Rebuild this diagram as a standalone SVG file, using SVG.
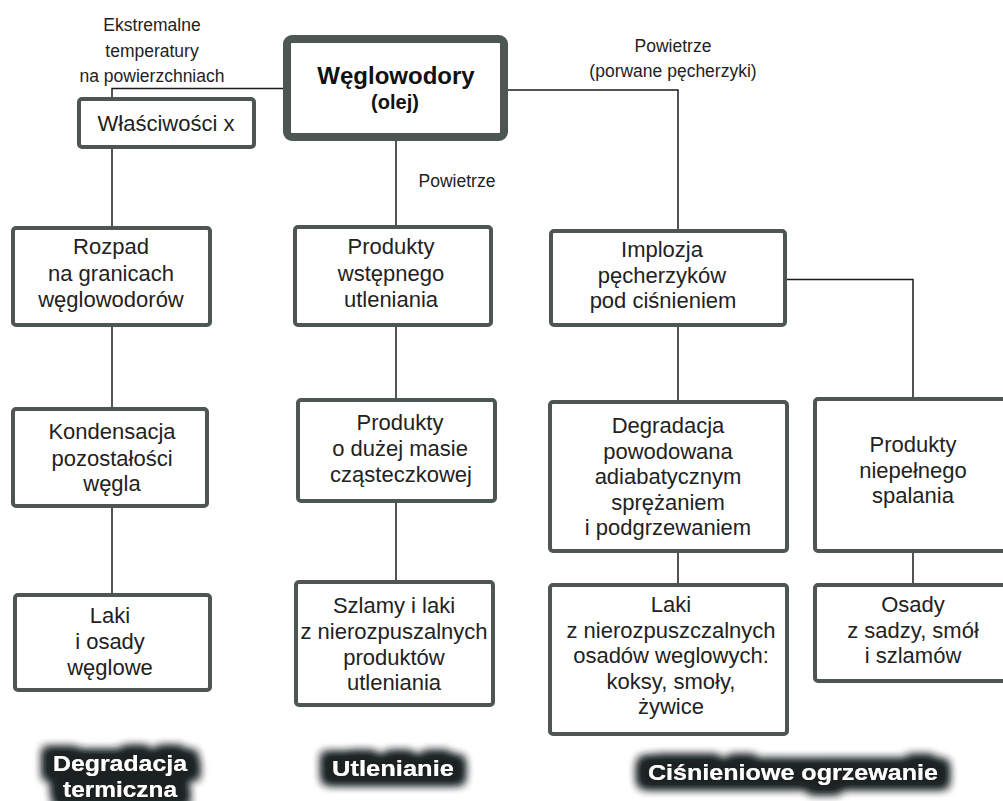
<svg xmlns="http://www.w3.org/2000/svg" width="1003" height="801" viewBox="0 0 1003 801">
<style>
.box{fill:#fff;stroke:#4d5555;stroke-width:4}
.main{fill:#fff;stroke:#4d5555;stroke-width:8}
.t{font-family:"Liberation Sans",Arial,sans-serif;font-size:22px;fill:#222;text-anchor:middle}
.lbl{font-family:"Liberation Sans",Arial,sans-serif;font-size:17.5px;fill:#222;text-anchor:middle}
.ttl{font-family:"Liberation Sans",Arial,sans-serif;font-weight:bold;fill:#111;text-anchor:middle}
.cat{font-family:"Liberation Sans",Arial,sans-serif;font-weight:bold;font-size:22px;fill:#fff;text-anchor:middle}
.conn{fill:none;stroke:#1a1a1a;stroke-width:1.5}
</style>
<defs>
<filter id="glow" x="-40%" y="-100%" width="180%" height="300%">
<feMorphology in="SourceAlpha" operator="dilate" radius="11 8" result="d"/>
<feGaussianBlur in="d" stdDeviation="5" result="b"/>
<feFlood flood-color="#1c2323"/>
<feComposite in2="b" operator="in" result="s"/>
<feMerge><feMergeNode in="s"/><feMergeNode in="s"/><feMergeNode in="SourceGraphic"/></feMerge>
</filter>
</defs>
<rect width="1003" height="801" fill="#fff"/>

<g id="connectors">
<path class="conn" d="M284,88.5 H112 V98"/>
<path class="conn" d="M112,149 V226"/>
<path class="conn" d="M112,327 V407"/>
<path class="conn" d="M112,508 V593"/>
<path class="conn" d="M396,141 V225"/>
<path class="conn" d="M396,327 V398"/>
<path class="conn" d="M396,503 V580"/>
<path class="conn" d="M508,90 H678 V229"/>
<path class="conn" d="M678,327 V400"/>
<path class="conn" d="M678,553 V583"/>
<path class="conn" d="M787,279.5 H913 V397"/>
<path class="conn" d="M913,553 V583"/>
</g>

<g id="label-ekstremalne">
<text class="lbl" x="152" y="31">Ekstremalne</text>
<text class="lbl" x="152" y="57">temperatury</text>
<text class="lbl" x="152" y="82">na powierzchniach</text>
</g>
<g id="label-powietrze-porwane">
<text class="lbl" x="673" y="52">Powietrze</text>
<text class="lbl" x="673" y="77">(porwane pęcherzyki)</text>
</g>
<g id="label-powietrze">
<text class="lbl" x="457" y="187">Powietrze</text>
</g>

<g id="node-weglowodory">
<rect class="main" x="287" y="39" width="217" height="98" rx="5"/>
<text class="ttl" x="396" y="84" font-size="24">Węglowodory</text>
<text class="ttl" x="395" y="109" font-size="20">(olej)</text>
</g>

<g id="node-wlasciwosci">
<rect class="box" x="79" y="99" width="175" height="48" rx="3"/>
<text class="t" x="166" y="131">Właściwości x</text>
</g>

<g id="node-rozpad">
<rect class="box" x="13" y="228" width="197" height="97" rx="3"/>
<text class="t" x="111" y="254">Rozpad</text>
<text class="t" x="111" y="280.5">na granicach</text>
<text class="t" x="111" y="306.5">węglowodorów</text>
</g>

<g id="node-kondensacja">
<rect class="box" x="13" y="409" width="194" height="97" rx="3"/>
<text class="t" x="112" y="439">Kondensacja</text>
<text class="t" x="112" y="465.5">pozostałości</text>
<text class="t" x="112" y="491">węgla</text>
</g>

<g id="node-laki-osady">
<rect class="box" x="15" y="595" width="195" height="95" rx="3"/>
<text class="t" x="110" y="623">Laki</text>
<text class="t" x="110" y="649">i osady</text>
<text class="t" x="110" y="675">węglowe</text>
</g>

<g id="node-produkty-wstepnego">
<rect class="box" x="295" y="227" width="196" height="98" rx="3"/>
<text class="t" x="391" y="254">Produkty</text>
<text class="t" x="391" y="280.5">wstępnego</text>
<text class="t" x="391" y="306.5">utleniania</text>
</g>

<g id="node-produkty-masie">
<rect class="box" x="298" y="400" width="197" height="101" rx="3"/>
<text class="t" x="400" y="430">Produkty</text>
<text class="t" x="400" y="456">o dużej masie</text>
<text class="t" x="401" y="481.5">cząsteczkowej</text>
</g>

<g id="node-szlamy">
<rect class="box" x="296" y="582" width="197" height="123" rx="3"/>
<text class="t" x="394" y="613">Szlamy i laki</text>
<text class="t" x="394" y="638.5">z nierozpuszalnych</text>
<text class="t" x="394" y="664.5">produktów</text>
<text class="t" x="394" y="690">utleniania</text>
</g>

<g id="node-implozja">
<rect class="box" x="551" y="231" width="234" height="94" rx="3"/>
<text class="t" x="662" y="257">Implozja</text>
<text class="t" x="662" y="283">pęcherzyków</text>
<text class="t" x="663" y="308">pod ciśnieniem</text>
</g>

<g id="node-degradacja">
<rect class="box" x="550" y="402" width="237" height="149" rx="3"/>
<text class="t" x="668" y="433">Degradacja</text>
<text class="t" x="668" y="458.5">powodowana</text>
<text class="t" x="668" y="484">adiabatycznym</text>
<text class="t" x="668" y="509.5">sprężaniem</text>
<text class="t" x="668" y="535">i podgrzewaniem</text>
</g>

<g id="node-laki-koksy">
<rect class="box" x="550" y="585" width="237" height="149" rx="3"/>
<text class="t" x="671" y="612">Laki</text>
<text class="t" x="671" y="637.5">z nierozpuszczalnych</text>
<text class="t" x="671" y="663">osadów weglowych:</text>
<text class="t" x="671" y="688.5">koksy, smoły,</text>
<text class="t" x="671" y="714">żywice</text>
</g>

<g id="node-produkty-niepelnego">
<rect class="box" x="815" y="399" width="200" height="152" rx="3"/>
<text class="t" x="913" y="452">Produkty</text>
<text class="t" x="913" y="477.5">niepełnego</text>
<text class="t" x="913" y="503">spalania</text>
</g>

<g id="node-osady">
<rect class="box" x="815" y="585" width="200" height="96" rx="3"/>
<text class="t" x="913" y="612">Osady</text>
<text class="t" x="913" y="637.5">z sadzy, smół</text>
<text class="t" x="913" y="663">i szlamów</text>
</g>

<g id="category-degradacja" filter="url(#glow)">
<text class="cat" x="120" y="771" textLength="134" lengthAdjust="spacingAndGlyphs">Degradacja</text>
<text class="cat" x="120" y="797" textLength="114" lengthAdjust="spacingAndGlyphs">termiczna</text>
</g>
<g id="category-utlenianie" filter="url(#glow)">
<text class="cat" x="393" y="776" textLength="122" lengthAdjust="spacingAndGlyphs">Utlenianie</text>
</g>
<g id="category-cisnieniowe" filter="url(#glow)">
<text class="cat" x="793" y="780" textLength="290" lengthAdjust="spacingAndGlyphs">Ciśnieniowe ogrzewanie</text>
</g>
</svg>
